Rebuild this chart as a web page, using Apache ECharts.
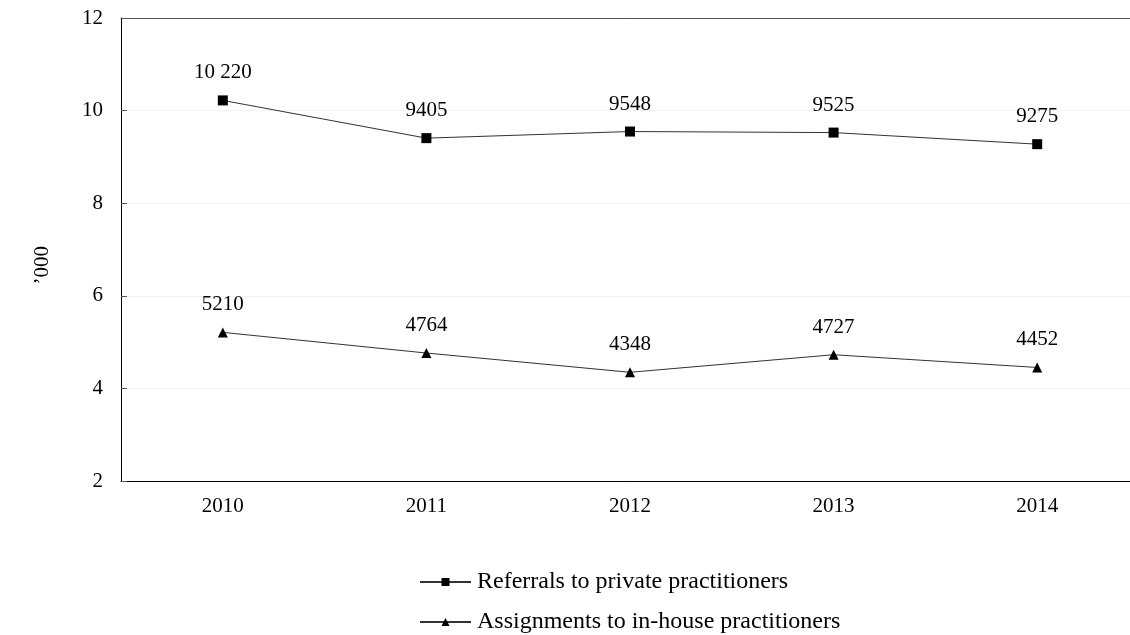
<!DOCTYPE html>
<html>
<head>
<meta charset="utf-8">
<script src="https://cdn.jsdelivr.net/npm/echarts@6/dist/echarts.min.js"></script>
<style>
  html, body { margin: 0; padding: 0; background: #fff; }
  #chart { width: 1130px; height: 635px; }
</style>
</head>
<body>
<div id="chart"></div>
<script>
// Legal aid case volumes, in thousands
const years = ['2010', '2011', '2012', '2013', '2014'];
const referrals = [10220, 9405, 9548, 9525, 9275];
const assignments = [5210, 4764, 4348, 4727, 4452];
const seriesNames = ['Referrals to private practitioners', 'Assignments to in-house practitioners'];
const yTicks = [2, 4, 6, 8, 10, 12];

const FONT = '"Liberation Serif", "Times New Roman", serif';

// 10 220 style thousands separator
function fmt(v) {
  const s = String(v);
  return s.length > 4 ? s.slice(0, s.length - 3) + ' ' + s.slice(-3) : s;
}

const chart = echarts.init(document.getElementById('chart'), null, { renderer: 'canvas' });

function lineSeries(name, values, symbol, size) {
  return {
    name: name,
    type: 'line',
    xAxisIndex: 0,
    data: values.map(v => ({ value: v / 1000, raw: v })),
    symbol: symbol,
    symbolSize: size,
    lineStyle: { color: '#333', width: 1 },
    itemStyle: { color: '#000' },
    label: {
      show: true,
      position: 'top',
      distance: 12,
      fontFamily: FONT,
      fontSize: 21,
      color: '#000',
      formatter: p => fmt(p.data.raw)
    },
    emphasis: { disabled: true },
    animation: false
  };
}

chart.setOption({
  backgroundColor: '#fff',
  textStyle: { fontFamily: FONT },
  grid: {
    left: 121, top: 18, width: 1018, height: 463,
    outerBoundsMode: 'none',
    containLabel: false,
    show: false
  },
  legend: {
    orient: 'vertical',
    left: 419,
    top: 570,
    padding: 0,
    itemWidth: 51,
    itemHeight: 10,
    itemGap: 16,
    textStyle: { fontFamily: FONT, fontSize: 24, lineHeight: 24, color: '#000', padding: [0, 0, 0, 1] },
    data: seriesNames
  },
  graphic: [{
    type: 'text',
    left: 32,
    top: 246,
    rotation: Math.PI / 2,
    style: { text: '\u2019000', font: '21px ' + FONT, fill: '#000' }
  }],
  xAxis: [{
    type: 'category',
    data: years,
    boundaryGap: true,
    axisLine: { lineStyle: { color: '#000', width: 1 } },
    axisTick: { inside: true, length: 5, lineStyle: { color: '#777' } },
    axisLabel: { fontFamily: FONT, fontSize: 21, color: '#000', margin: 15 },
    splitLine: { show: false }
  }, {
    // top frame line of the plot area
    type: 'category',
    data: years,
    position: 'top',
    axisLine: { show: true, lineStyle: { color: '#555', width: 1 } },
    axisTick: { show: false },
    axisLabel: { show: false },
    splitLine: { show: false }
  }],
  yAxis: {
    type: 'value',
    min: yTicks[0],
    max: yTicks[yTicks.length - 1],
    interval: 2,
    axisLine: { show: true, lineStyle: { color: '#000', width: 1 } },
    axisTick: { show: true, inside: true, length: 6, lineStyle: { color: '#555' } },
    axisLabel: { fontFamily: FONT, fontSize: 21, color: '#000', margin: 18 },
    splitLine: { show: true, lineStyle: { color: '#f2f2f2', width: 1 } }
  },
  series: [
    lineSeries(seriesNames[0], referrals, 'rect', 10),
    lineSeries(seriesNames[1], assignments, 'triangle', 10)
  ]
});
</script>
</body>
</html>
